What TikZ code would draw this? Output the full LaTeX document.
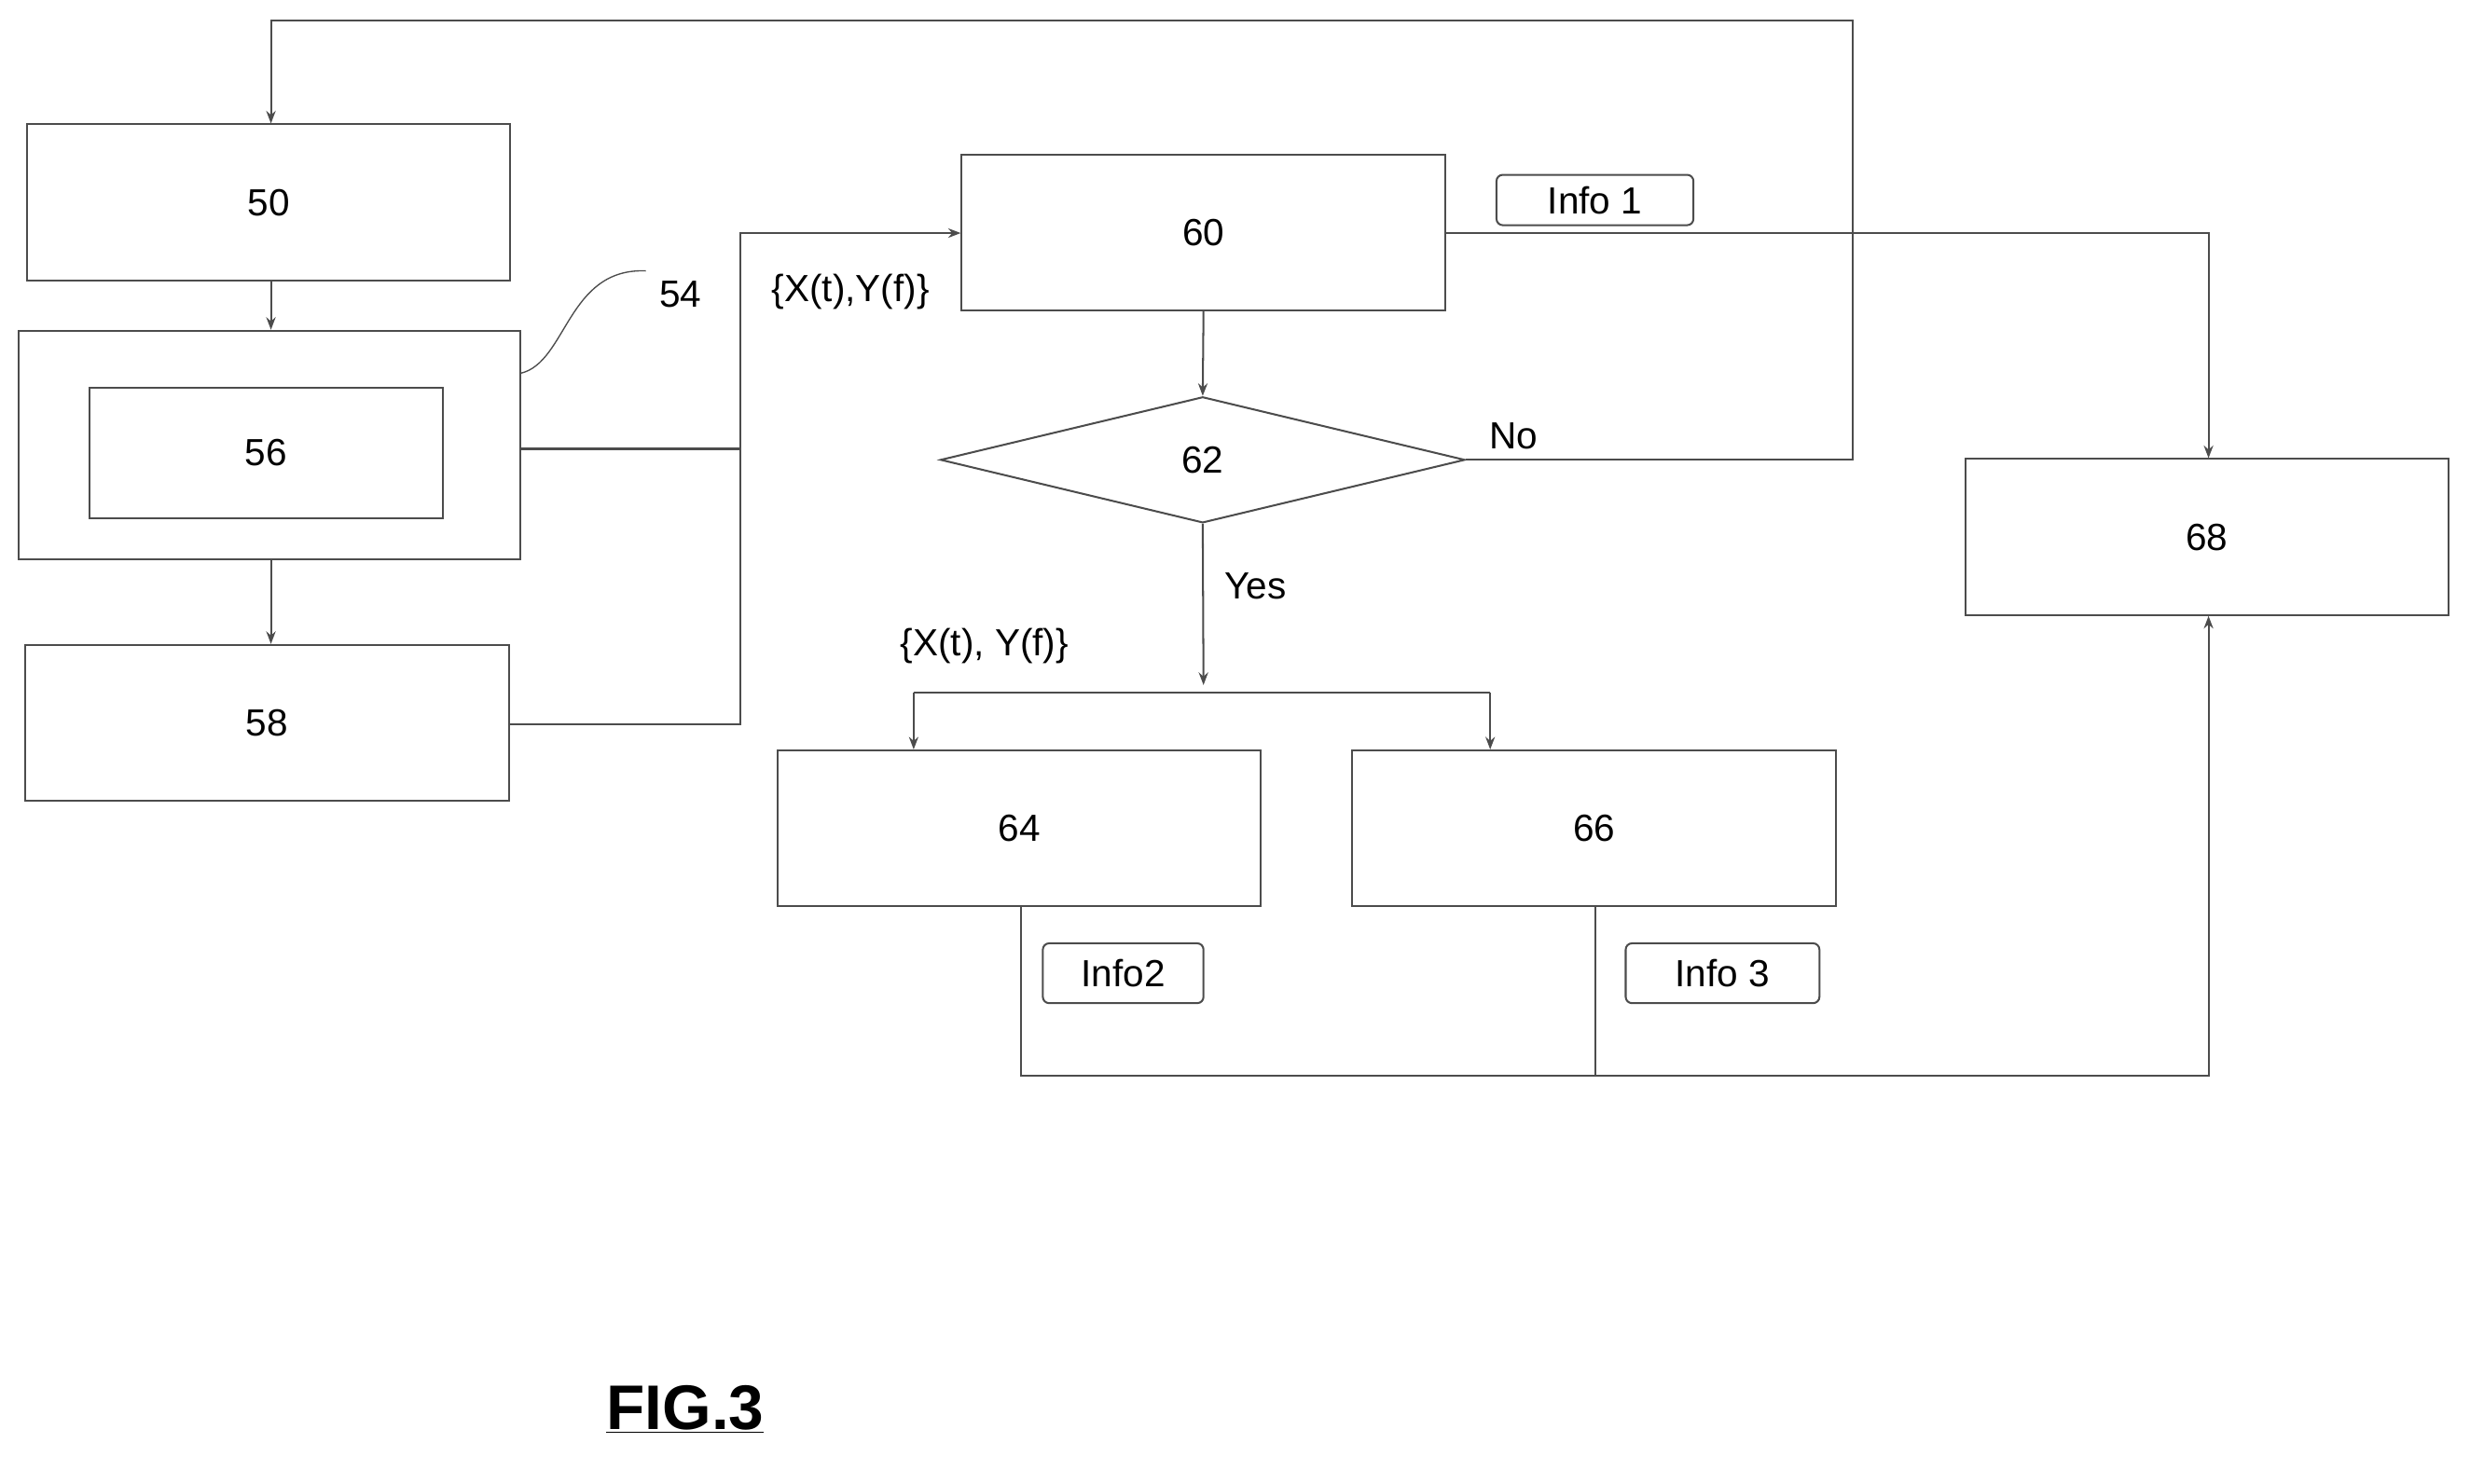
\documentclass[tikz,border=0pt]{standalone}
\usepackage{fontspec}
\setmainfont{Liberation Sans}
\usetikzlibrary{shapes.geometric,arrows.meta}
\begin{document}
\begin{tikzpicture}[x=1pt,y=-1pt,
  ln/.style={draw=black!70,line width=1.2pt},
  box/.style={ln,minimum width=307pt,minimum height=99pt,inner sep=0pt,font=\fontsize{24}{28}\selectfont},
  tag/.style={ln,rounded corners=4pt,inner sep=0pt,font=\fontsize{24}{28}\selectfont},
  arr/.style={ln,-{Stealth[length=8pt,width=6pt]}},
  lbl/.style={font=\fontsize{24}{28}\selectfont,inner sep=0pt}]
\useasboundingbox (0,0) rectangle (1568,942);
\node[box] (b50) at (170.5,128.5) {50};
\node[box,minimum width=318pt,minimum height=145pt] (b54) at (171,282.5) {};
\node[box,minimum width=224pt,minimum height=83pt] (b56) at (169,287.5) {56};
\node[box] (b58) at (169.5,459) {58};
\node[box] (b60) at (764,147.5) {60};
\node[ln,diamond,aspect=4.16,minimum width=333pt,minimum height=80pt,inner sep=0pt,font=\fontsize{24}{28}\selectfont] (b62) at (763.5,292) {62};
\node[box] (b68) at (1401,341) {68};
\node[box] (b64) at (647,526) {64};
\node[box] (b66) at (1012,526) {66};
\node[tag,minimum width=125pt,minimum height=32pt] (i1) at (1012.5,127) {Info 1};
\node[tag,minimum width=102pt,minimum height=38pt] (i2) at (713,618) {Info2};
\node[tag,minimum width=123pt,minimum height=38pt] (i3) at (1093.5,618) {Info 3};
\node[lbl] (l54) at (432,187) {54};
\node[lbl] (lx1) at (540,185) {\{X(t),Y(f)\}};
\node[lbl] (lno) at (961,277) {No};
\node[lbl] (lyes) at (797,372) {Yes};
\node[lbl] (lx2) at (625,410) {\{X(t), Y(f)\}};
\node[font=\fontsize{40}{44}\selectfont\bfseries,inner sep=0pt] (fig) at (435,895) {\underline{FIG.3}};
\coordinate (s1) at (1176,292);
\coordinate (s2) at (1176,13);
\coordinate (s3) at (172,13);
\coordinate (j1) at (470,285);
\coordinate (j2) at (470,460);
\coordinate (j3) at (470,148);
\coordinate (c68) at (1402,148);
\coordinate (y1) at (764,435);
\coordinate (h1) at (580,440);
\coordinate (h2) at (946,440);
\coordinate (m64) at (648,683);
\coordinate (m66) at (1013,683);
\coordinate (m68) at (1402,683);
\draw[arr] (b62.east) -- (s1) -- (s2) -- (s3) -- (b50.north -| s3);
\draw[arr] (b50.south -| s3) -- (b54.north -| s3);
\draw[arr] (b54.south -| s3) -- (b58.north -| s3);
\draw[ln] (b54.east |- j1) -- (j1);
\draw[arr] (b58.east |- j2) -- (j2) -- (j3) -- (b60.west |- j3);
\draw[arr] (b60.south) -- (b62.north);
\draw[arr] (b60.east |- c68) -- (c68) -- (b68.north -| c68);
\draw[arr] (b62.south) -- (y1);
\draw[ln] (764,440) -- (h1);
\draw[ln] (764,440) -- (h2);
\draw[arr] (h1) -- (b64.north -| h1);
\draw[arr] (h2) -- (b66.north -| h2);
\draw[ln] (b64.south -| m64) -- (m64) -- (m66);
\draw[ln] (b66.south -| m66) -- (m66);
\draw[arr] (m66) -- (m68) -- (b68.south -| m68);
\draw[ln,line width=0.8pt] (b54.east |- 0,237) .. controls (360,230) and (360,170) .. (410,172);
\end{tikzpicture}
\end{document}
